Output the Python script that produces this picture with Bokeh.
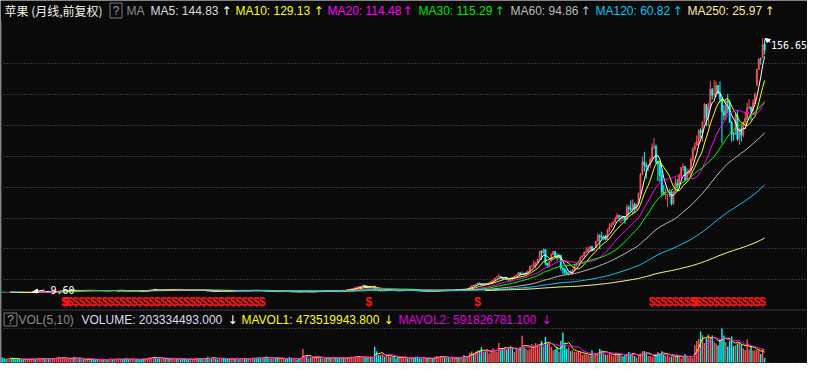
import numpy as np
from bokeh.plotting import figure
from bokeh.models import Range1d, ColumnDataSource
from bokeh.embed import file_html
from bokeh.resources import INLINE
from bokeh.core.properties import value

# ---------------- data (monthly, forward adjusted) ----------------
OPEN = [
 -9.35, -9.37, -9.41, -9.42,
 -9.33, -9.32, -9.35, -9.46, -9.48, -9.53, -9.56, -9.57, -9.59, -9.57, -9.54, -9.49,
 -9.46, -9.45, -9.48, -9.41, -9.37, -9.34, -9.21, -9.33, -9.23, -9.24, -9.16, -9.13,
 -9.13, -8.89, -8.64, -8.59, -8.51, -8.39, -8.34, -8.30, -8.07, -7.85, -8.50, -8.43,
 -8.30, -8.39, -8.28, -8.32, -8.32, -8.19, -8.14, -8.26, -8.32, -8.35, -8.44, -8.43,
 -8.35, -8.51, -8.50, -8.57, -8.39, -8.19, -8.34, -8.34, -8.23, -8.16, -8.12, -8.26,
 -8.53, -8.59, -8.60, -8.35, -8.35, -8.30, -8.48, -8.51, -8.71, -8.76, -8.80, -8.53,
 -8.26, -7.85, -7.73, -7.44, -7.98, -8.12, -8.30, -8.09, -7.87, -8.07, -7.87, -8.01,
 -7.78, -7.53, -7.53, -7.76, -7.57, -7.66, -7.76, -8.12, -8.16, -8.23, -7.98, -7.84,
 -7.66, -7.66, -7.94, -8.05, -8.09, -8.09, -8.48, -8.84, -8.84, -8.94, -8.66, -8.69,
 -8.76, -8.59, -8.46, -8.51, -8.66, -8.80, -8.84, -8.68, -8.51, -8.55, -8.30, -8.48,
 -8.41, -8.35, -8.43, -8.53, -8.41, -8.30, -8.14, -8.23, -8.26, -8.46, -8.51, -8.37,
 -8.61, -8.77, -8.875, -8.875, -8.89, -8.86, -9.00, -9.16, -9.07, -8.96, -8.89, -8.93,
 -9.00, -9.14, -9.21, -9.11, -9.11, -9.14, -9.25, -9.09, -9.04, -8.96, -9.14, -9.125,
 -9.29, -9.125, -9.05, -8.79, -8.68, -8.75, -8.71, -8.46, -8.61, -8.39, -8.50, -8.43,
 -8.29, -8.30, -8.45, -8.46, -8.11, -8.29, -8.11, -7.75, -7.50, -7.43, -6.89, -6.36,
 -6.08, -6.04, -5.66, -4.90, -5.32, -6.75, -6.01, -6.12, -5.40, -7.91, -8.35, -8.57,
 -8.69, -8.21, -8.44, -8.18, -7.93, -8.32, -8.09, -8.41, -8.425, -8.64, -8.49, -8.23,
 -8.19, -7.99, -8.20, -8.06, -8.01, -8.09, -8.49, -8.66, -8.69, -8.71, -8.61, -8.61,
 -8.73, -8.72, -8.68, -8.74, -8.74, -8.47, -8.39, -8.24, -8.14, -8.27, -8.11, -8.26,
 -8.22, -8.14, -8.04, -7.82, -7.91, -7.74, -7.43, -7.44, -7.27, -6.98, -6.01, -4.96,
 -5.15, -4.26, -3.34, -3.80, -4.60, -4.07, -4.49, -3.66, -3.05, -2.09, -1.52, -0.06,
 0.52, 1.04, 0.03, -0.79, 0.31, -1.21, -1.57, -0.04, -0.06, 1.25, 1.83, 3.34,
 2.37, 2.50, 2.34, 3.52, 4.51, 7.56, 7.68, 9.07, 10.03, 12.17, 17.39, 16.28,
 18.55, 9.59, 8.11, 10.75, 15.10, 17.21, 14.17, 12.96, 14.47, 6.49, 5.62, 3.49,
 2.44, 3.13, 3.01, 5.27, 8.23, 9.65, 10.60, 13.59, 14.28, 16.73, 17.18, 18.81,
 20.35, 17.69, 19.48, 23.82, 27.55, 26.95, 26.18, 27.00, 24.98, 30.79, 33.25, 34.70,
 36.33, 38.72, 40.71, 40.04, 40.27, 39.94, 38.20, 46.03, 45.23, 44.72, 48.08, 44.85,
 48.11, 55.46, 67.74, 75.90, 73.68, 72.78, 73.68, 77.50, 85.66, 85.93, 75.68, 74.62,
 67.03, 56.08, 54.45, 54.63, 54.64, 56.07, 48.47, 56.47, 61.86, 60.37, 66.93, 72.13,
 72.84, 64.20, 68.31, 69.81, 77.43, 84.03, 86.53, 89.20, 96.57, 94.82, 102.07, 113.47,
 104.92, 111.70, 123.47, 119.44, 120.16, 125.81, 120.96, 116.83, 108.81, 106.35, 115.55, 114.87,
 101.83, 93.91, 93.78, 106.08, 90.83, 97.52, 93.26, 101.87, 104.33, 111.28, 111.77, 109.32,
 114.62, 125.83, 136.36, 143.03, 144.47, 153.17,
]
HIGH = [
 -9.31, -9.36, -9.39, -9.31,
 -9.29, -9.30, -9.34, -9.43, -9.475, -9.52, -9.54, -9.56, -9.56, -9.53, -9.475, -9.45,
 -9.42, -9.44, -9.40, -9.35, -9.31, -9.17, -9.19, -9.21, -9.21, -9.14, -9.08, -9.08,
 -8.83, -8.60, -8.53, -8.46, -8.40, -8.30, -8.19, -7.94, -7.80, -7.67, -8.26, -8.23,
 -8.23, -8.26, -8.19, -8.26, -8.16, -8.09, -8.10, -8.23, -8.26, -8.32, -8.37, -8.34,
 -8.34, -8.46, -8.48, -8.37, -8.16, -8.12, -8.26, -8.19, -8.05, -8.01, -8.09, -8.23,
 -8.48, -8.55, -8.34, -8.30, -8.23, -8.26, -8.37, -8.48, -8.69, -8.73, -8.51, -8.23,
 -7.80, -7.59, -7.19, -7.41, -7.94, -8.09, -8.05, -7.80, -7.84, -7.80, -7.84, -7.76,
 -7.44, -7.44, -7.48, -7.55, -7.51, -7.62, -7.73, -8.09, -8.12, -7.91, -7.80, -7.62,
 -7.48, -7.62, -7.84, -7.98, -8.01, -8.05, -8.44, -8.76, -8.80, -8.62, -8.59, -8.68,
 -8.55, -8.43, -8.43, -8.50, -8.62, -8.78, -8.66, -8.48, -8.44, -8.26, -8.26, -8.37,
 -8.34, -8.34, -8.41, -8.37, -8.26, -8.09, -8.01, -8.16, -8.19, -8.41, -8.34, -8.35,
 -8.54, -8.71, -8.79, -8.82, -8.79, -8.82, -8.96, -9.04, -8.93, -8.86, -8.86, -8.82,
 -8.98, -9.125, -9.07, -9.07, -9.09, -9.125, -9.07, -8.68, -8.93, -8.91, -9.07, -9.11,
 -9.07, -9.04, -8.77, -8.68, -8.64, -8.68, -8.39, -8.32, -8.32, -8.32, -8.36, -8.25,
 -8.21, -8.29, -8.39, -8.07, -7.93, -8.07, -7.75, -7.39, -6.96, -6.82, -6.18, -5.54,
 -5.32, -5.50, -4.38, -4.75, -5.25, -6.00, -5.75, -5.36, -5.17, -7.84, -8.11, -8.50,
 -8.18, -8.19, -8.05, -7.82, -7.84, -7.96, -7.95, -8.33, -8.39, -8.36, -8.21, -8.16,
 -7.93, -7.96, -8.01, -7.89, -7.94, -8.01, -8.46, -8.59, -8.62, -8.59, -8.56, -8.61,
 -8.64, -8.66, -8.64, -8.71, -8.41, -8.35, -8.18, -8.09, -8.09, -8.09, -8.08, -8.18,
 -8.02, -8.01, -7.76, -7.70, -7.72, -7.39, -7.29, -7.19, -6.94, -5.91, -4.86, -4.78,
 -4.16, -3.27, -3.31, -3.41, -3.92, -3.92, -3.41, -3.02, -1.95, -1.16, -0.01, 1.04,
 2.59, 1.09, 0.54, 0.66, 0.48, -0.72, 0.01, 0.11, 1.36, 1.96, 3.56, 3.56,
 4.22, 3.24, 4.08, 4.72, 7.71, 8.48, 11.52, 10.14, 12.39, 17.68, 18.09, 19.25,
 18.86, 9.68, 11.09, 15.96, 17.71, 17.36, 16.09, 15.96, 15.18, 6.88, 6.22, 5.05,
 4.14, 5.01, 5.89, 8.39, 9.68, 11.34, 13.71, 14.91, 17.11, 20.06, 20.11, 20.69,
 21.05, 19.58, 24.18, 29.18, 28.52, 30.11, 28.11, 28.01, 32.11, 35.82, 36.15, 36.92,
 40.04, 42.38, 41.25, 40.96, 40.29, 40.15, 48.04, 47.39, 50.66, 51.21, 49.14, 48.69,
 55.71, 68.56, 79.04, 82.25, 75.51, 74.28, 78.81, 87.90, 91.36, 87.20, 76.20, 75.95,
 70.30, 60.66, 58.52, 54.96, 58.25, 57.23, 56.96, 65.65, 64.69, 68.27, 72.45, 74.85,
 73.00, 71.70, 71.56, 78.76, 85.63, 88.65, 93.04, 96.97, 97.81, 102.11, 114.29, 113.79,
 114.54, 128.61, 124.11, 129.55, 128.50, 126.16, 128.50, 118.10, 112.94, 116.74, 120.39, 116.43,
 102.42, 95.46, 107.51, 109.48, 98.39, 99.55, 102.21, 108.46, 114.41, 116.92, 112.00, 116.82,
 121.24, 136.85, 143.87, 144.27, 156.65, 155.98,
]
LOW = [
 -9.40, -9.43, -9.43, -9.43,
 -9.37, -9.36, -9.475, -9.49, -9.54, -9.58, -9.58, -9.59, -9.60, -9.58, -9.54, -9.50,
 -9.475, -9.50, -9.49, -9.42, -9.395, -9.35, -9.37, -9.34, -9.30, -9.26, -9.19, -9.16,
 -9.14, -8.90, -8.71, -8.67, -8.56, -8.44, -8.43, -8.32, -8.12, -8.59, -8.55, -8.50,
 -8.48, -8.41, -8.37, -8.41, -8.37, -8.23, -8.34, -8.41, -8.41, -8.50, -8.51, -8.48,
 -8.55, -8.57, -8.59, -8.59, -8.41, -8.37, -8.44, -8.37, -8.26, -8.23, -8.30, -8.57,
 -8.68, -8.64, -8.62, -8.44, -8.44, -8.51, -8.59, -8.75, -8.87, -8.925, -8.82, -8.55,
 -8.30, -7.91, -7.76, -8.05, -8.19, -8.37, -8.34, -8.16, -8.12, -8.12, -8.12, -8.05,
 -7.84, -7.59, -7.80, -7.84, -7.73, -7.98, -8.16, -8.23, -8.26, -8.26, -8.01, -7.87,
 -7.73, -8.01, -8.09, -8.19, -8.19, -8.51, -8.94, -8.89, -9.00, -8.98, -8.75, -8.82,
 -8.78, -8.62, -8.60, -8.69, -8.84, -8.925, -8.87, -8.69, -8.62, -8.59, -8.51, -8.55,
 -8.51, -8.50, -8.57, -8.57, -8.44, -8.34, -8.26, -8.32, -8.48, -8.59, -8.55, -8.69,
 -8.82, -8.89, -8.91, -8.93, -8.91, -9.04, -9.16, -9.18, -9.09, -8.98, -8.98, -9.02,
 -9.16, -9.23, -9.23, -9.18, -9.18, -9.27, -9.27, -9.14, -9.07, -9.18, -9.20, -9.295,
 -9.29, -9.14, -9.07, -8.82, -8.82, -8.79, -8.75, -8.64, -8.64, -8.61, -8.57, -8.50,
 -8.43, -8.54, -8.57, -8.61, -8.29, -8.29, -8.18, -7.89, -7.57, -7.43, -7.00, -6.50,
 -6.68, -6.29, -5.75, -6.04, -6.84, -6.82, -6.54, -6.43, -7.96, -8.50, -8.61, -8.78,
 -8.72, -8.46, -8.50, -8.34, -8.36, -8.37, -8.49, -8.50, -8.70, -8.69, -8.52, -8.32,
 -8.27, -8.29, -8.22, -8.09, -8.20, -8.54, -8.78, -8.74, -8.73, -8.81, -8.69, -8.74,
 -8.75, -8.74, -8.75, -8.84, -8.74, -8.50, -8.41, -8.31, -8.30, -8.31, -8.36, -8.33,
 -8.23, -8.16, -8.08, -7.95, -7.94, -7.79, -7.66, -7.51, -7.33, -7.05, -6.15, -5.36,
 -5.28, -4.29, -3.96, -4.89, -4.66, -4.62, -4.56, -3.75, -3.15, -2.91, -1.58, -0.09,
 0.32, -0.52, -1.36, -0.85, -1.28, -1.85, -2.58, -1.35, -0.08, 0.62, 1.66, 1.75,
 2.22, 1.94, 2.12, 3.08, 4.34, 6.74, 7.18, 6.19, 9.48, 11.86, 11.76, 15.76,
 8.26, 6.74, 6.74, 10.74, 14.95, 14.04, 11.18, 12.08, 4.62, 2.39, 1.79, 2.34,
 1.42, 2.61, 2.01, 4.32, 7.31, 9.41, 9.59, 12.69, 13.69, 15.82, 16.79, 17.09,
 17.44, 17.44, 19.48, 23.51, 18.72, 25.32, 24.48, 24.54, 24.96, 29.96, 33.12, 34.68,
 36.31, 38.49, 36.82, 35.99, 37.48, 35.38, 37.96, 40.68, 43.25, 40.85, 42.15, 44.29,
 48.11, 54.96, 66.96, 69.54, 64.85, 69.75, 71.79, 76.01, 84.34, 74.59, 63.26, 62.61,
 53.15, 53.92, 51.25, 46.40, 52.88, 47.38, 47.73, 55.63, 56.62, 60.00, 65.26, 69.66,
 63.20, 64.02, 67.03, 66.17, 76.06, 83.25, 86.50, 86.90, 91.47, 89.25, 101.77, 99.14,
 99.17, 110.64, 116.61, 118.37, 118.37, 120.03, 114.73, 88.05, 103.41, 103.36, 107.57, 101.39,
 88.96, 89.68, 93.74, 89.60, 87.13, 89.16, 92.03, 99.66, 100.76, 110.51, 102.88, 106.91,
 113.56, 125.81, 136.00, 139.43, 143.64, 146.02,
]
CLOSE = [
 -9.37, -9.41, -9.42, -9.33,
 -9.32, -9.35, -9.46, -9.48, -9.53, -9.56, -9.57, -9.59, -9.57, -9.54, -9.49, -9.46,
 -9.45, -9.48, -9.41, -9.37, -9.34, -9.21, -9.33, -9.23, -9.24, -9.16, -9.13, -9.13,
 -8.89, -8.64, -8.59, -8.51, -8.44, -8.34, -8.30, -8.07, -7.85, -8.50, -8.43, -8.30,
 -8.39, -8.28, -8.32, -8.32, -8.19, -8.14, -8.26, -8.32, -8.35, -8.44, -8.43, -8.35,
 -8.51, -8.50, -8.57, -8.39, -8.19, -8.34, -8.34, -8.23, -8.16, -8.12, -8.26, -8.53,
 -8.59, -8.60, -8.35, -8.35, -8.30, -8.48, -8.51, -8.71, -8.76, -8.80, -8.53, -8.26,
 -7.85, -7.73, -7.44, -7.98, -8.12, -8.30, -8.09, -7.87, -8.07, -7.87, -8.01, -7.78,
 -7.53, -7.53, -7.76, -7.57, -7.66, -7.76, -8.12, -8.16, -8.23, -7.98, -7.84, -7.66,
 -7.66, -7.94, -8.05, -8.09, -8.09, -8.48, -8.84, -8.84, -8.94, -8.66, -8.69, -8.76,
 -8.59, -8.46, -8.51, -8.66, -8.80, -8.84, -8.68, -8.51, -8.55, -8.30, -8.48, -8.41,
 -8.35, -8.43, -8.53, -8.41, -8.30, -8.14, -8.23, -8.26, -8.46, -8.51, -8.37, -8.66,
 -8.77, -8.875, -8.875, -8.89, -8.86, -9.00, -9.16, -9.07, -8.96, -8.89, -8.93, -9.00,
 -9.14, -9.21, -9.11, -9.11, -9.14, -9.25, -9.09, -9.04, -8.96, -9.14, -9.125, -9.29,
 -9.125, -9.05, -8.79, -8.68, -8.75, -8.71, -8.46, -8.61, -8.39, -8.50, -8.43, -8.29,
 -8.30, -8.45, -8.46, -8.11, -8.29, -8.11, -7.75, -7.50, -7.43, -6.89, -6.36, -6.08,
 -6.04, -5.66, -4.90, -5.32, -6.75, -6.01, -6.12, -5.40, -7.91, -8.35, -8.57, -8.69,
 -8.21, -8.44, -8.18, -7.93, -8.32, -8.09, -8.41, -8.425, -8.64, -8.49, -8.23, -8.19,
 -7.99, -8.20, -8.06, -8.01, -8.09, -8.49, -8.66, -8.69, -8.71, -8.61, -8.61, -8.73,
 -8.72, -8.68, -8.74, -8.74, -8.47, -8.39, -8.24, -8.14, -8.27, -8.11, -8.26, -8.22,
 -8.14, -8.04, -7.82, -7.91, -7.74, -7.43, -7.44, -7.27, -6.98, -6.01, -4.96, -5.15,
 -4.26, -3.34, -3.80, -4.60, -4.07, -4.49, -3.66, -3.05, -2.09, -1.52, -0.06, 0.52,
 1.04, 0.03, -0.79, 0.31, -1.21, -1.57, -0.04, -0.06, 1.25, 1.83, 3.34, 2.37,
 2.50, 2.34, 3.52, 4.51, 7.56, 7.68, 9.07, 10.03, 12.17, 17.39, 16.28, 18.55,
 9.59, 8.11, 10.75, 15.10, 17.21, 14.17, 12.96, 14.47, 6.49, 5.62, 3.49, 2.44,
 3.13, 3.01, 5.27, 8.23, 9.65, 10.60, 13.59, 14.28, 16.73, 17.18, 18.81, 20.35,
 17.69, 19.48, 23.82, 27.55, 26.95, 26.18, 27.00, 24.98, 30.79, 33.25, 34.70, 36.33,
 38.72, 40.71, 40.04, 40.27, 39.94, 38.20, 46.03, 45.23, 44.72, 48.08, 44.85, 48.11,
 55.46, 67.74, 75.90, 73.68, 72.78, 73.68, 77.50, 85.66, 85.93, 75.68, 74.62, 67.03,
 56.08, 54.45, 54.63, 54.64, 56.07, 48.47, 56.47, 61.86, 60.37, 66.93, 72.13, 72.84,
 64.20, 68.31, 69.81, 77.43, 84.03, 86.53, 89.20, 96.57, 94.82, 102.07, 113.47, 104.92,
 111.70, 123.47, 119.44, 120.16, 125.81, 120.96, 116.83, 108.81, 106.35, 115.55, 114.87, 101.83,
 93.91, 93.78, 106.08, 90.83, 97.52, 93.26, 101.87, 104.33, 111.28, 111.77, 109.32, 114.62,
 120.15, 136.36, 143.03, 143.02, 152.76, 148.98,
]
# monthly volume, millions of shares
VOLUME_M = [
 230, 200, 170, 210,
 200, 170, 210, 150, 160, 190, 140, 120, 130, 150, 160, 180,
 160, 130, 170, 190, 150, 210, 200, 180, 160, 170, 190, 150,
 230, 270, 210, 220, 190, 180, 170, 200, 210, 270, 180, 170,
 190, 160, 150, 140, 160, 170, 150, 130, 120, 140, 130, 120,
 160, 130, 120, 140, 180, 160, 150, 140, 150, 160, 140, 170,
 180, 130, 160, 150, 140, 150, 130, 140, 160, 180, 170, 190,
 240, 210, 260, 250, 190, 200, 180, 190, 170, 180, 160, 170,
 210, 160, 170, 180, 150, 160, 180, 140, 130, 160, 150, 170,
 180, 200, 160, 150, 130, 210, 270, 190, 200, 240, 170, 150,
 190, 200, 180, 160, 170, 180, 160, 190, 170, 220, 190, 160,
 200, 170, 160, 180, 190, 230, 210, 180, 220, 200, 180, 240,
 280, 260, 210, 190, 180, 200, 240, 170, 160, 180, 150, 190,
 250, 180, 170, 160, 140, 200, 240, 620, 270, 290, 180, 240,
 280, 210, 290, 240, 190, 180, 250, 200, 210, 240, 190, 210,
 250, 180, 200, 230, 210, 170, 240, 230, 280, 260, 250, 270,
 300, 210, 250, 230, 210, 240, 250, 210, 730, 520, 350, 340,
 390, 280, 320, 340, 270, 250, 280, 190, 240, 270, 220, 200,
 260, 200, 190, 210, 200, 270, 280, 200, 190, 210, 180, 170,
 200, 150, 190, 270, 300, 260, 290, 240, 230, 250, 220, 190,
 210, 180, 240, 250, 180, 260, 330, 260, 280, 450, 510, 410,
 500, 560, 560, 700, 500, 500, 600, 420, 560, 660, 560, 500,
 900, 600, 650, 700, 600, 700, 780, 670, 480, 620, 600, 720,
 1240, 700, 640, 560, 640, 860, 780, 900, 800, 800, 1000, 740,
 1180, 900, 870, 720, 560, 600, 720, 480, 1000, 1380, 880, 640,
 700, 520, 560, 480, 480, 500, 480, 340, 380, 440, 340, 320,
 560, 360, 400, 430, 620, 560, 500, 360, 380, 460, 360, 290,
 420, 380, 440, 340, 290, 330, 400, 480, 380, 450, 300, 230,
 300, 420, 520, 530, 440, 300, 300, 270, 340, 380, 470, 420,
 520, 380, 320, 380, 280, 270, 270, 300, 340, 290, 200, 260,
 380, 270, 220, 280, 210, 800, 990, 1080, 1430, 1260, 900, 1120,
 1300, 1150, 1250, 960, 880, 800, 1050, 1570, 1250, 950, 740, 1000,
 1210, 760, 800, 880, 920, 800, 660, 580, 1071.2, 600.5, 768.3, 549.6,
 561.07, 571.0, 562.1, 392.6, 638.57, 203.33,
]
DIVIDEND_MONTHS = [
 "1987-05", "1987-08", "1987-11", "1988-02", "1988-05", "1988-08", "1988-11",
 "1989-02", "1989-05", "1989-08", "1989-11", "1990-02", "1990-05", "1990-08", "1990-11",
 "1991-02", "1991-05", "1991-08", "1991-11", "1992-02", "1992-05", "1992-08", "1992-11",
 "1993-02", "1993-05", "1993-08", "1993-11", "1994-02", "1994-05", "1994-08", "1994-11",
 "1995-02", "1995-05", "1995-08", "1995-11",
 "2012-08", "2012-11", "2013-02", "2013-05", "2013-08", "2013-11", "2014-02", "2014-05",
 "2014-08", "2014-11", "2015-02", "2015-05", "2015-08", "2015-11", "2016-02", "2016-05",
 "2016-08", "2016-11", "2017-02", "2017-05",
]
SPLIT_MONTHS = ["1987-06", "2000-06", "2005-02", "2014-06"]
MA_PERIODS = [5, 10, 20, 30, 60, 120, 250]
MA_COLORS = ["#ffffff", "#ffff00", "#ff00ff", "#00ff00", "#c0c0c0", "#18c8f0", "#ffff90"]
MA_LABELS = ["MA5: 144.83", "MA10: 129.13", "MA20: 114.48", "MA30: 115.29",
             "MA60: 94.86", "MA120: 60.82", "MA250: 25.97"]
VOL_MA_PERIODS = [5, 10]
VOL_LABELS = ["VOLUME: 203334493.000", "MAVOL1: 473519943.800", "MAVOL2: 591826781.100"]
TITLE = "苹果 (月线,前复权)"
HIGH_LABEL = "156.65"
LOW_LABEL = "-9.60"

n = len(CLOSE)
assert len(OPEN) == n and len(HIGH) == n and len(LOW) == n and len(VOLUME_M) == n
MONTHS = [f"{1984 + (8 + i) // 12}-{(8 + i) % 12 + 1:02d}" for i in range(n)]

# ---------------- layout ----------------
W, H = 807, 363
BG = "#0a0a0a"
UP, DOWN = "#ff5555", "#00ffff"

o = np.array(OPEN); h = np.array(HIGH); l = np.array(LOW); c = np.array(CLOSE)
v = np.array(VOLUME_M, dtype=float)
idx = np.arange(n)
up = c >= o

p = figure(width=W, height=H, output_backend="svg", toolbar_location=None,
           x_range=Range1d(-0.8763, 415.103), y_range=Range1d(-56.086, 181.478),
           x_axis_location=None, y_axis_location=None, min_border=0,
           background_fill_color=BG, border_fill_color=BG, outline_line_color=None)
p.grid.visible = False
vmax = v.max()
p.extra_x_ranges = {"px": Range1d(0, W)}
p.extra_y_ranges = {"py": Range1d(H, 0),
                    "vol": Range1d(-1.0 / 34.0 * vmax, 362.0 / 34.0 * vmax)}

# dotted grid lines & separators (screen coordinates)
grid_y = [63, 94, 125, 156, 187, 218, 248, 279, 328, 362.5]
p.segment(x0=[0] * len(grid_y), x1=[W] * len(grid_y), y0=grid_y, y1=grid_y,
          line_color="#5a5a5a", line_dash="1 2", line_width=1,
          x_range_name="px", y_range_name="py")
p.segment(x0=[0, 1], x1=[W, 1], y0=[309.5, 20], y1=[309.5, H], line_color="#3c3c3c",
          line_width=1, x_range_name="px", y_range_name="py")

# candles
for mask, col, bw in ((up, UP, 0.62), (~up, DOWN, 0.72)):
    src = ColumnDataSource(dict(x=idx[mask], h=h[mask], l=l[mask],
                                top=np.maximum(o, c)[mask], bot=np.minimum(o, c)[mask]))
    p.segment(x0="x", x1="x", y0="l", y1="h", source=src, line_color=col, line_width=1)
    p.vbar(x="x", top="top", bottom="bot", width=bw, source=src,
           fill_color=col, line_color=col, line_width=0.5)

def sma(arr, k):
    out = np.full(len(arr), np.nan)
    cs = np.cumsum(np.insert(arr, 0, 0.0))
    out[k - 1:] = (cs[k:] - cs[:-k]) / k
    return out

for k, col in zip(MA_PERIODS, MA_COLORS):
    p.line(idx, sma(c, k), line_color=col, line_width=1)

# volume
for mask, col in ((up, UP), (~up, DOWN)):
    p.vbar(x=idx[mask], top=v[mask], bottom=0, width=0.72, fill_color=col,
           line_color=None, y_range_name="vol")
for k, col in zip(VOL_MA_PERIODS, ["#ffff00", "#ff00ff"]):
    p.line(idx, sma(v, k), line_color=col, line_width=1, y_range_name="vol")

# dividend / split markers
ev = sorted(set(MONTHS.index(m) for m in DIVIDEND_MONTHS + SPLIT_MONTHS))
p.text(x=ev, y=[301.5] * len(ev), text=["$"] * len(ev), y_range_name="py",
       text_color="#ff1a1a", text_font=value("Liberation Sans"), text_font_size="12px",
       text_font_style="bold", text_align="center", text_baseline="middle")

# extreme labels
p.segment(x0=[765], y0=[38.5], x1=[770], y1=[42], line_color="white", line_width=1,
          x_range_name="px", y_range_name="py")
p.patch(x=[764.5, 770, 766.5], y=[38, 39, 42], fill_color="white", line_color="white",
        x_range_name="px", y_range_name="py")
p.text(x=[770.5], y=[44], text=[HIGH_LABEL], x_range_name="px", y_range_name="py",
       text_color="white", text_font=value("DejaVu Sans Mono"), text_font_size="10px",
       text_baseline="middle", text_align="left")
p.segment(x0=[32], y0=[291.5], x1=[44], y1=[289.5], line_color="white", line_width=1,
          x_range_name="px", y_range_name="py")
p.patch(x=[32, 37, 36.5], y=[291.5, 288.5, 292.5], fill_color="white", line_color="white",
        x_range_name="px", y_range_name="py")
p.text(x=[44], y=[289], text=[LOW_LABEL], x_range_name="px", y_range_name="py",
       text_color="white", text_font=value("DejaVu Sans Mono"), text_font_size="10px",
       text_baseline="middle", text_align="left")

# header row of price pane
TY = 10
p.text(x=[4], y=[TY], text=[TITLE], x_range_name="px", y_range_name="py",
       text_color="#f2f2e6", text_font=value("Noto Sans CJK SC"), text_font_size="12px",
       text_baseline="middle", text_align="left")
p.quad(left=[109.5, 3.5], right=[121.5, 16.5], top=[2.5, 312.5], bottom=[17.5, 325.5],
       fill_color=None, line_color="#7a7a7a", x_range_name="px", y_range_name="py")
p.text(x=[115.5, 10], y=[TY, 319], text=["?", "?"], x_range_name="px", y_range_name="py",
       text_color="#9a9a9a", text_font=value("Liberation Sans"), text_font_size="12px",
       text_baseline="middle", text_align="center")

hdr = ColumnDataSource(dict(
    x=[126, 150, 235, 327, 418, 510, 595, 687],
    y=[TY] * 8,
    t=["MA"] + MA_LABELS,
    col=["#8a8a8a", "#dcdcdc", "#ffff00", "#ff00ff", "#00e600", "#bcbcbc", "#00c8f0", "#ffec90"]))
p.text(x="x", y="y", text="t", text_color="col", source=hdr, x_range_name="px",
       y_range_name="py", text_font=value("Liberation Sans"), text_font_size="12px",
       text_baseline="middle", text_align="left")
arr = ColumnDataSource(dict(
    x=[226, 318, 407, 499, 585, 677, 769], y=[TY] * 7, t=["↑"] * 7,
    col=["#ffffff", "#ffff00", "#ff00ff", "#00e600", "#bcbcbc", "#00c8f0", "#ffec90"]))
p.text(x="x", y="y", text="t", text_color="col", source=arr, x_range_name="px",
       y_range_name="py", text_font=value("DejaVu Sans"), text_font_size="12px",
       text_baseline="middle", text_align="center")

VY = 319
vh = ColumnDataSource(dict(
    x=[18, 81, 241, 398], y=[VY] * 4,
    t=["VOL(5,10)"] + VOL_LABELS,
    col=["#8a8a8a", "#dcdcf0", "#ffff00", "#e000e0"]))
p.text(x="x", y="y", text="t", text_color="col", source=vh, x_range_name="px",
       y_range_name="py", text_font=value("Liberation Sans"), text_font_size="12px",
       text_baseline="middle", text_align="left")
va = ColumnDataSource(dict(x=[232, 388, 546], y=[VY] * 3, t=["↓"] * 3,
                           col=["#ffffff", "#ffff00", "#e000e0"]))
p.text(x="x", y="y", text="t", text_color="col", source=va, x_range_name="px",
       y_range_name="py", text_font=value("DejaVu Sans"), text_font_size="12px",
       text_baseline="middle", text_align="center")

open("out.html", "w").write(file_html(p, INLINE))
